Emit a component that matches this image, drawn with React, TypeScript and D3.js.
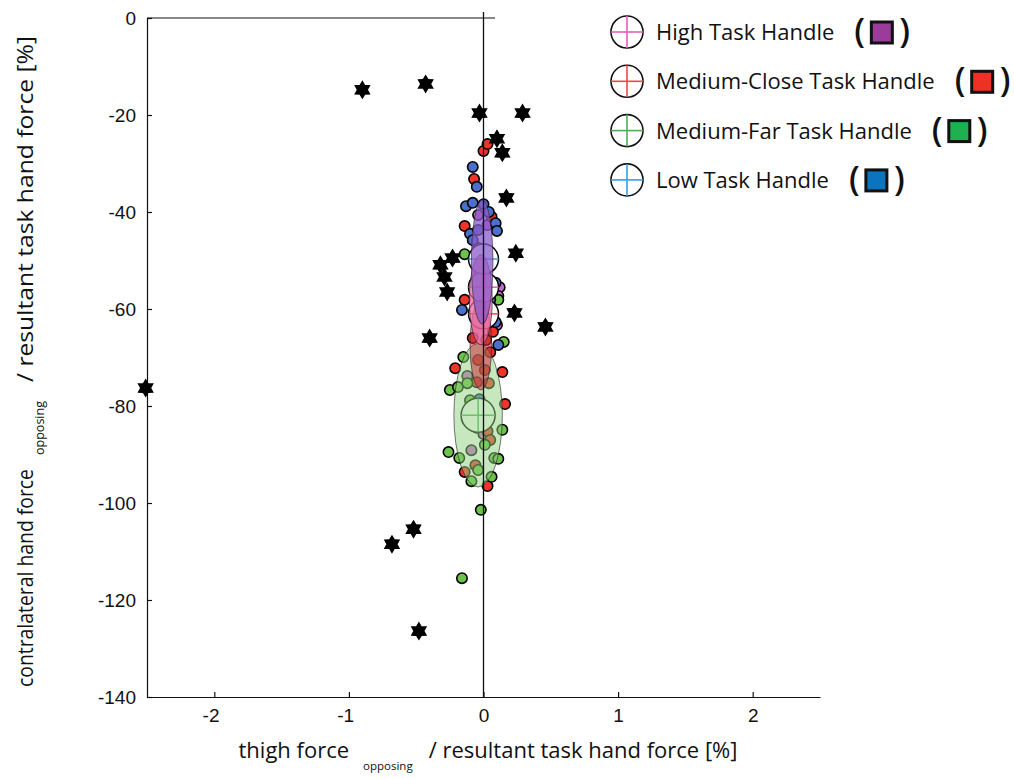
import { useEffect, useRef } from "react";
import * as d3 from "d3";

// legend / group order: High, Medium-Close, Medium-Far, Low
const groupNames = ["High Task Handle", "Medium-Close Task Handle", "Medium-Far Task Handle", "Low Task Handle"];
const crossColors = ["#e45fc0", "#f04848", "#4fae58", "#38a0e0"];
const swatchColors = ["#9b3c9b", "#ee3124", "#1db14f", "#0a74bf"];
const dotColors = ["#c66ac9", "#f0342a", "#6cc24a", "#4a70cc"];
const areaColors = ["#e86aa8", "#c8303c", "#8fd07e", "#8a5cc8"];
const areaOpacity = [0.75, 0.55, 0.5, 0.75];

// individual trials [x, y] in %
const highDots = [
  [-0.04, -40.6], [0.03, -42.7], [0.12, -55.5], [0.11, -57.3], [0.1, -63.3], [-0.12, -73.8],
  [0.0, -85.8], [-0.09, -89.1], [0.05, -61.2], [-0.03, -52.0], [-0.04, -47.4],
];
const closeDots = [
  [0.0, -27.4], [0.03, -26.0], [-0.07, -33.2], [0.06, -41.0], [-0.14, -42.9], [-0.14, -58.1],
  [-0.08, -66.0], [0.07, -64.7], [0.05, -68.9], [-0.21, -72.2], [0.14, -73.0], [-0.05, -75.1],
  [0.04, -75.3], [0.16, -79.6], [-0.04, -70.5], [0.01, -72.6], [-0.05, -84.5], [0.03, -85.2],
  [0.05, -87.0], [-0.06, -92.2], [-0.14, -93.6], [0.03, -96.5], [-0.03, -62.3], [0.02, -66.4],
];
const farDots = [
  [-0.14, -48.7], [0.11, -58.1], [0.15, -66.8], [-0.15, -69.9], [-0.25, -76.7], [-0.19, -76.1],
  [-0.12, -75.3], [0.14, -84.9], [-0.26, -89.5], [-0.18, -90.7], [0.08, -90.7], [0.11, -90.9],
  [-0.09, -95.5], [0.06, -94.6], [-0.02, -101.4], [-0.16, -115.5], [-0.1, -78.8], [0.01, -88.0],
  [-0.04, -93.2], [-0.12, -82.9],
];
const lowDots = [
  [-0.08, -30.7], [-0.05, -34.8], [-0.13, -38.8], [-0.08, -38.1], [0.0, -38.4], [0.04, -40.0],
  [-0.1, -44.5], [0.09, -42.3], [0.1, -43.9], [-0.08, -45.8], [0.09, -54.6], [-0.16, -60.2],
  [0.05, -58.1], [0.09, -62.7], [0.11, -67.4], [-0.03, -78.6], [-0.04, -43.7], [0.02, -47.8],
];
const dotsByGroup = [highDots, closeDots, farDots, lowDots];

// group means and spread
const meanX = [0.0, 0.0, -0.04, 0.0];
const meanY = [-55.5, -61.0, -81.9, -49.7];
const areaX = [-0.02, -0.02, -0.04, -0.01];
const areaY = [-58.1, -67.4, -81.9, -50.3];
const sdX = [0.085, 0.08, 0.18, 0.08];
const sdY = [9.3, 9.3, 14.8, 12.8];

// outliers (stars)
const outliers = [
  [-0.9, -14.8], [-0.43, -13.6], [-0.03, -19.6], [0.29, -19.6], [0.1, -24.9], [0.14, -27.8],
  [0.17, -37.1], [0.24, -48.5], [-0.23, -49.5], [-0.32, -50.9], [-0.29, -53.4], [-0.27, -56.5],
  [0.23, -60.8], [0.46, -63.7], [-0.4, -66.0], [-2.51, -76.3], [-0.52, -105.4], [-0.68, -108.5],
  [-0.48, -126.4],
];

const xTicks = [-2, -1, 0, 1, 2];
const yTicks = [-140, -120, -100, -80, -60, -40, -20, 0];

const W = 1014;
const H = 779;
const TITLE_FONT = "'Open Sans', 'Noto Sans', sans-serif";
const TICK_FONT = "'Liberation Sans', Arial, sans-serif";

function starPath(R: number, r: number) {
  const pts = d3.range(12).map((i) => {
    const a = (i * Math.PI) / 6 - Math.PI / 2;
    const rad = i % 2 === 0 ? R : r;
    return [Math.cos(a) * rad, Math.sin(a) * rad];
  });
  return "M" + pts.map((p) => p[0].toFixed(2) + "," + p[1].toFixed(2)).join("L") + "Z";
}

export default function App() {
  const ref = useRef<SVGSVGElement>(null);

  useEffect(() => {
    const svg = d3.select(ref.current);
    svg.selectAll("*").remove();

    const x = d3.scaleLinear().domain([-2.5, 2.5]).range([147, 820]);
    const y = d3.scaleLinear().domain([-140, 0]).range([697, 18]);
    const fmt = (d: any) => String(d);

    // axes
    const yAxis = svg.append("g").attr("transform", `translate(${x(-2.5)},0)`)
      .call(d3.axisLeft(y).tickValues(yTicks).tickFormat(fmt).tickSizeInner(-5).tickSizeOuter(0).tickPadding(11));
    const xAxis = svg.append("g").attr("transform", `translate(0,${y(-140)})`)
      .call(d3.axisBottom(x).tickValues(xTicks).tickFormat(fmt).tickSizeInner(-5).tickSizeOuter(0).tickPadding(12));
    [yAxis, xAxis].forEach((g) => {
      g.attr("font-family", TICK_FONT).attr("font-size", 19);
      g.selectAll("path, line").attr("stroke", "#111").attr("stroke-width", 1.2);
      g.selectAll("text").attr("fill", "#111");
    });
    yAxis.selectAll("text").attr("dy", "0.36em");
    xAxis.selectAll("text").attr("dx", (d: any) => (d < 0 ? "-0.2em" : "0"));

    // top frame line (cut by legend)
    svg.append("line").attr("x1", x(-2.5)).attr("x2", 495).attr("y1", y(0)).attr("y2", y(0))
      .attr("stroke", "#111").attr("stroke-width", 1.2);

    const plot = svg.append("g");

    // trial dots
    dotsByGroup.forEach((pts, i) => {
      plot.append("g").selectAll("circle").data(pts).join("circle")
        .attr("cx", (d) => x(d[0])).attr("cy", (d) => y(d[1])).attr("r", 5.2)
        .attr("fill", dotColors[i]).attr("stroke", "#000").attr("stroke-width", 1.6);
    });

    // mean circles with crosses
    const order = [2, 1, 0, 3];
    order.forEach((i) => {
      const cx = x(meanX[i]);
      const cy = y(meanY[i]);
      const r = i === 2 ? 17 : 15;
      const g = plot.append("g");
      g.append("circle").attr("cx", cx).attr("cy", cy).attr("r", r)
        .attr("fill", "#fff").attr("stroke", "#000").attr("stroke-width", 1.5);
      g.append("line").attr("x1", cx - r).attr("x2", cx + r).attr("y1", cy).attr("y2", cy)
        .attr("stroke", crossColors[i]).attr("stroke-width", 1.5);
      g.append("line").attr("x1", cx).attr("x2", cx).attr("y1", cy - r).attr("y2", cy + r)
        .attr("stroke", crossColors[i]).attr("stroke-width", 1.5);
    });

    // spread ellipses
    order.forEach((i) => {
      const cx = x(areaX[i]);
      const cy = y(areaY[i]);
      plot.append("ellipse").attr("cx", cx).attr("cy", cy)
        .attr("rx", x(areaX[i] + sdX[i]) - cx).attr("ry", cy - y(areaY[i] + sdY[i]))
        .attr("fill", areaColors[i]).attr("fill-opacity", areaOpacity[i])
        .attr("stroke", "#222").attr("stroke-opacity", 0.6).attr("stroke-width", 1);
    });

    // zero line
    svg.append("line").attr("x1", x(0)).attr("x2", x(0)).attr("y1", y(0) - 6).attr("y2", y(-140))
      .attr("stroke", "#111").attr("stroke-width", 1.3);

    // outliers
    const sp = starPath(9.5, 5.6);
    svg.append("g").selectAll("path").data(outliers).join("path")
      .attr("d", sp).attr("transform", (d) => `translate(${x(d[0])},${y(d[1])})`)
      .attr("fill", "#000");

    // axis titles
    const xt = svg.append("text").attr("x", 488).attr("y", 758).attr("text-anchor", "middle")
      .attr("font-family", TITLE_FONT).attr("font-size", 22).attr("fill", "#111");
    xt.append("tspan").text("thigh force");
    xt.append("tspan").attr("font-size", 11.5).attr("dx", 14).attr("dy", 12).text("opposing");
    xt.append("tspan").attr("dx", 16).attr("dy", -12).text("/ resultant task hand force [%]");

    const yt = svg.append("g").attr("transform", "translate(33,0) rotate(-90)")
      .attr("font-family", TITLE_FONT).attr("fill", "#111");
    yt.append("text").attr("x", -687).attr("y", 0).attr("font-size", 22)
      .attr("textLength", 218).attr("lengthAdjust", "spacingAndGlyphs").text("contralateral hand force");
    yt.append("text").attr("x", -455).attr("y", 11).attr("font-size", 12)
      .attr("textLength", 54).attr("lengthAdjust", "spacingAndGlyphs").text("opposing");
    yt.append("text").attr("x", -382).attr("y", 0).attr("font-size", 22)
      .attr("textLength", 346).attr("lengthAdjust", "spacingAndGlyphs").text("/ resultant task hand force [%]");

    // legend
    const legend = svg.append("g");
    groupNames.forEach((name, i) => {
      const cy = 32 + i * 49.3;
      const g = legend.append("g");
      g.append("circle").attr("cx", 627).attr("cy", cy).attr("r", 16)
        .attr("fill", "#fff").attr("stroke", "#111").attr("stroke-width", 1.6);
      g.append("line").attr("x1", 611).attr("x2", 643).attr("y1", cy).attr("y2", cy)
        .attr("stroke", crossColors[i]).attr("stroke-width", 1.6);
      g.append("line").attr("x1", 627).attr("x2", 627).attr("y1", cy - 16).attr("y2", cy + 16)
        .attr("stroke", crossColors[i]).attr("stroke-width", 1.6);
      const t = g.append("text").attr("x", 656).attr("y", cy + 8).attr("font-family", TITLE_FONT)
        .attr("font-size", 22).attr("fill", "#111").text(name);
      const w = (t.node() as SVGTextElement).getComputedTextLength();
      const px = 656 + w + 20;
      g.append("text").attr("x", px).attr("y", cy + 11).attr("font-family", TITLE_FONT)
        .attr("font-size", 34).attr("font-weight", 600).attr("fill", "#111").text("(");
      g.append("rect").attr("x", px + 17).attr("y", cy - 10).attr("width", 21).attr("height", 21)
        .attr("fill", swatchColors[i]).attr("stroke", "#111").attr("stroke-width", 3);
      g.append("text").attr("x", px + 45).attr("y", cy + 11).attr("font-family", TITLE_FONT)
        .attr("font-size", 34).attr("font-weight", 600).attr("fill", "#111").text(")");
    });
  }, []);

  return (
    <svg ref={ref} width={W} height={H} style={{ position: "absolute", left: 0, top: 0, background: "#fff" }} />
  );
}
